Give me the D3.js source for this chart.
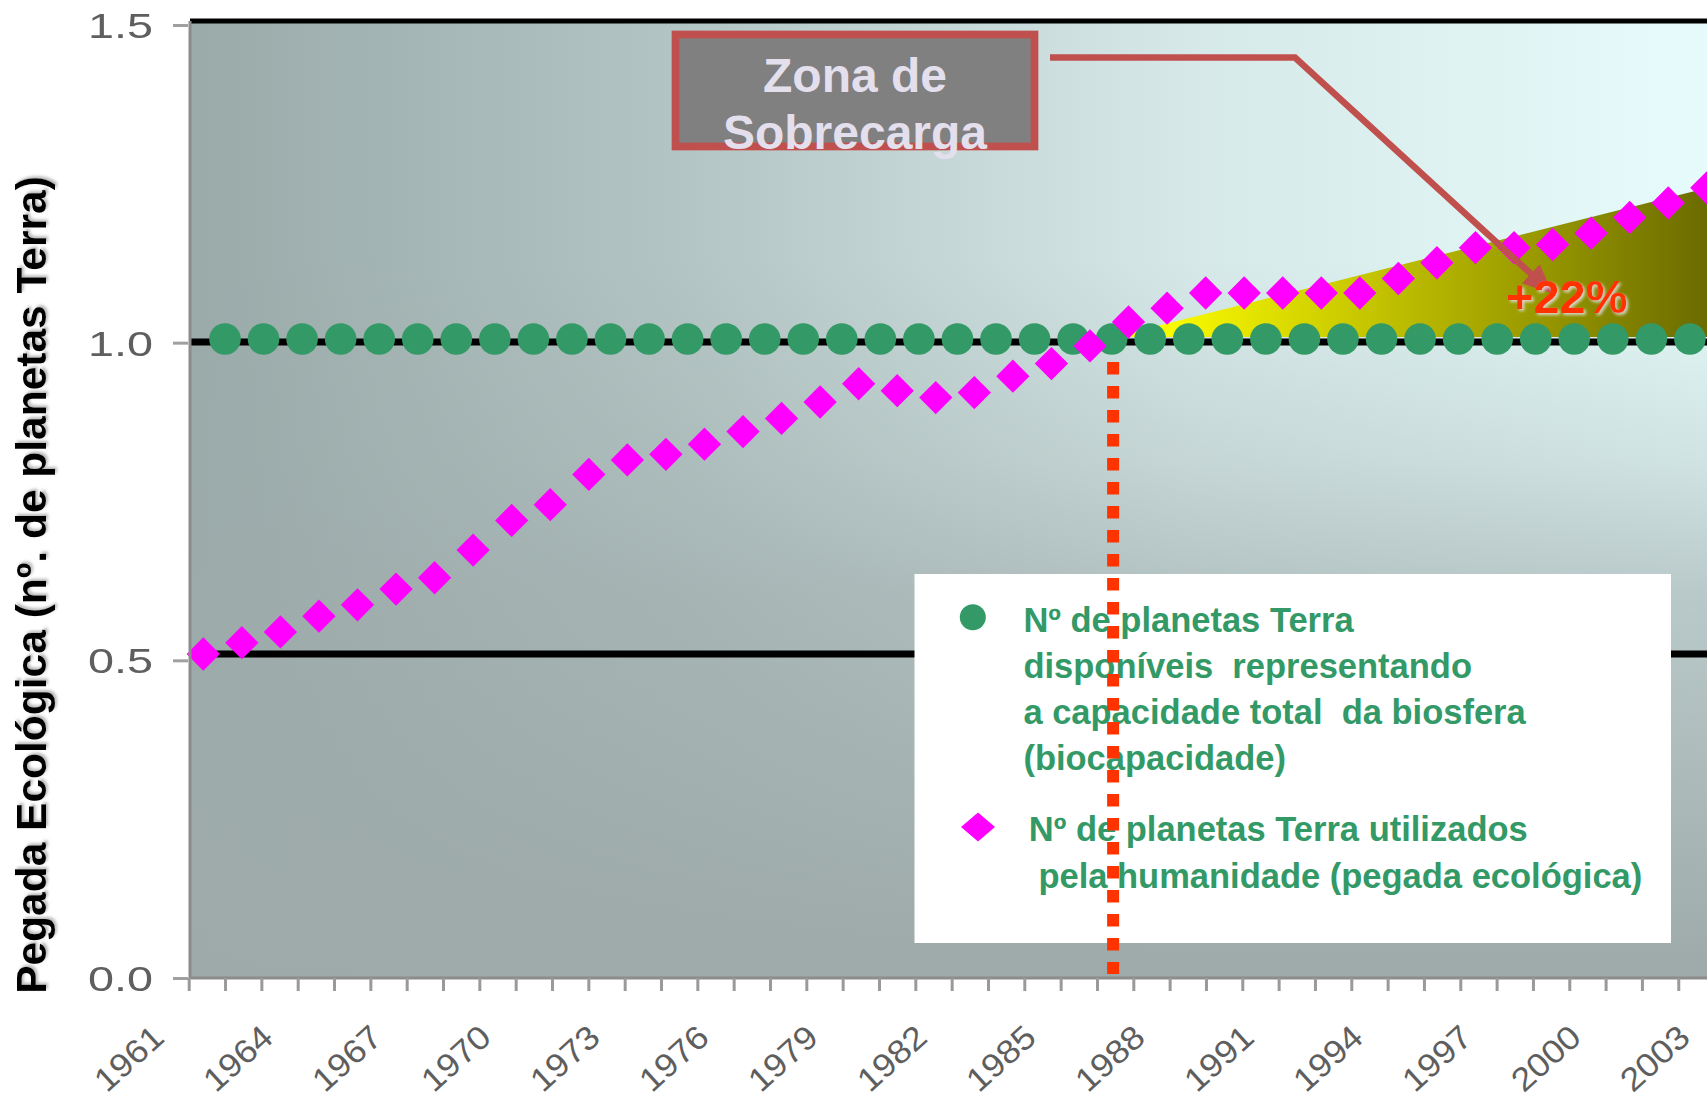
<!DOCTYPE html>
<html>
<head>
<meta charset="utf-8">
<script src="https://cdn.jsdelivr.net/npm/d3@7"></script>
<style>
  body { margin: 0; background: #fff; }
  text { font-family: "Liberation Sans", Arial, sans-serif; }
</style>
</head>
<body>
<div id="chart"></div>
<script>
// x axis: one tick per year, a label every third year
const tickYears = [1961, 1964, 1967, 1970, 1973, 1976, 1979, 1982, 1985, 1988, 1991, 1994, 1997, 2000, 2003];
const yTicks = [0.0, 0.5, 1.0, 1.5];
const gridValues = [0.5, 1.0];

// planets used by humanity (ecological footprint), one diamond per year from 1961
const footprint = [0.500, 0.518, 0.535, 0.560, 0.578, 0.603, 0.621, 0.665, 0.712, 0.737,
                   0.785, 0.808, 0.817, 0.833, 0.853, 0.874, 0.900, 0.929, 0.918, 0.907,
                   0.915, 0.941, 0.961, 0.989, 1.027, 1.049, 1.073, 1.073, 1.073, 1.073,
                   1.073, 1.096, 1.121, 1.145, 1.145, 1.150, 1.168, 1.193, 1.216, 1.240];

// planets available (biocapacity)
const biocapacity = [1.0, 1.0, 1.0, 1.0, 1.0, 1.0, 1.0, 1.0, 1.0, 1.0,
                     1.0, 1.0, 1.0, 1.0, 1.0, 1.0, 1.0, 1.0, 1.0, 1.0,
                     1.0, 1.0, 1.0, 1.0, 1.0, 1.0, 1.0, 1.0, 1.0, 1.0,
                     1.0, 1.0, 1.0, 1.0, 1.0, 1.0, 1.0, 1.0, 1.0];

// overshoot wedge (point index, value) and the crossing point
const overshootTrend = [[23.4, 1.0], [40.0, 1.255]];
const overshootIndex = 23.6;
const overshootLabel = "+22%";

const legendBio = ["Nº de planetas Terra", "disponíveis  representando", "a capacidade total  da biosfera", "(biocapacidade)"];
const legendFoot = ["Nº de planetas Terra utilizados", " pela humanidade (pegada ecológica)"];
const yTitle = "Pegada Ecológica (nº. de planetas Terra)";
const zoneTitle = ["Zona de", "Sobrecarga"];

const width = 1707;
const height = 1105;
const plotLeft = 190, plotTop = 21, plotBottom = 978;

const svg = d3.select("#chart").append("svg")
    .attr("width", width)
    .attr("height", height);

const defs = svg.append("defs");

const bgH = defs.append("linearGradient").attr("id", "bgH")
    .attr("gradientUnits", "userSpaceOnUse")
    .attr("x1", plotLeft).attr("x2", width).attr("y1", 0).attr("y2", 0);
[[0, "#99aaa9"], [0.33, "#b3c5c4"], [0.66, "#d6e9e8"], [1, "#e6fbfb"]].forEach(s =>
    bgH.append("stop").attr("offset", s[0]).attr("stop-color", s[1]));

const bgV = defs.append("linearGradient").attr("id", "bgV")
    .attr("gradientUnits", "userSpaceOnUse")
    .attr("x1", 0).attr("x2", 0).attr("y1", plotTop).attr("y2", plotBottom);
[[0, 0], [0.25, 0], [0.46, 0.3], [0.6, 0.62], [1, 1]].forEach(s =>
    bgV.append("stop").attr("offset", s[0]).attr("stop-color", "#9eaaaa").attr("stop-opacity", s[1]));

const wedgeGrad = defs.append("linearGradient").attr("id", "wedge")
    .attr("gradientUnits", "userSpaceOnUse")
    .attr("x1", 1150).attr("x2", width).attr("y1", 0).attr("y2", 0);
wedgeGrad.append("stop").attr("offset", 0).attr("stop-color", "#ffff00");
wedgeGrad.append("stop").attr("offset", 1).attr("stop-color", "#6b6b00");

defs.append("filter").attr("id", "soft")
    .append("feGaussianBlur").attr("stdDeviation", 0.6);
defs.append("filter").attr("id", "shadow")
    .append("feDropShadow").attr("dx", 2).attr("dy", 2).attr("stdDeviation", 1.5)
    .attr("flood-color", "#888").attr("flood-opacity", 0.6);
defs.append("filter").attr("id", "glow")
    .append("feDropShadow").attr("dx", 2).attr("dy", 2).attr("stdDeviation", 1.5)
    .attr("flood-color", "#ddd").attr("flood-opacity", 0.9);

// scales: axis and the pasted marker series do not share spacing
const xA = d3.scaleLinear().domain([1961, 2003]).range([188.7, 1714.6]);
const yA = d3.scaleLinear().domain([0, 1.5]).range([plotBottom, 25]);
const xFoot = d3.scaleLinear().domain([0, 39]).range([203.3, 1706.8]);
const xBio = d3.scaleLinear().domain([0, 38]).range([225, 1689.9]);
const yM = d3.scaleLinear().domain([0.5, 1.0]).range([654, 339]);

// background
svg.append("rect")
    .attr("x", plotLeft).attr("y", plotTop)
    .attr("width", width - plotLeft).attr("height", plotBottom - plotTop)
    .attr("fill", "url(#bgH)");
svg.append("rect")
    .attr("x", plotLeft).attr("y", plotTop)
    .attr("width", width - plotLeft).attr("height", plotBottom - plotTop)
    .attr("fill", "url(#bgV)");

// gridlines
svg.append("line")
    .attr("x1", plotLeft).attr("x2", width)
    .attr("y1", plotTop).attr("y2", plotTop)
    .attr("stroke", "black").attr("stroke-width", 5);
svg.selectAll(".grid").data(gridValues).enter().append("line")
    .attr("class", "grid")
    .attr("x1", plotLeft).attr("x2", width)
    .attr("y1", d => yM(d) + (d === 1 ? 3 : 0))
    .attr("y2", d => yM(d) + (d === 1 ? 3 : 0))
    .attr("stroke", "black").attr("stroke-width", 7);

// overshoot wedge
svg.append("path")
    .attr("d", d3.area()
        .x(d => xFoot(d[0]))
        .y0(yM(1.0) - 2)
        .y1(d => yM(d[1]))(overshootTrend))
    .attr("fill", "url(#wedge)");

// biocapacity dots
svg.selectAll(".bio").data(biocapacity).enter().append("circle")
    .attr("class", "bio")
    .attr("cx", (d, i) => xBio(i))
    .attr("cy", d => yM(d))
    .attr("r", 15.8)
    .attr("fill", "#339966");

// footprint diamonds
const diamond = d3.symbol(d3.symbolSquare, 555);
svg.selectAll(".foot").data(footprint).enter().append("path")
    .attr("class", "foot")
    .attr("d", diamond)
    .attr("transform", (d, i) => `translate(${xFoot(i)},${yM(d)}) rotate(45)`)
    .attr("fill", "#ff00ff");

// y axis
svg.append("line")
    .attr("x1", plotLeft).attr("x2", plotLeft)
    .attr("y1", plotTop).attr("y2", plotBottom)
    .attr("stroke", "#8c8c8c").attr("stroke-width", 3);
const yAxisG = svg.append("g")
    .attr("transform", `translate(${plotLeft - 2},0)`)
    .call(d3.axisLeft(yA).tickValues(yTicks).tickSize(15).tickPadding(20).tickFormat(d3.format(".1f")));
yAxisG.select(".domain").remove();
yAxisG.selectAll(".tick line").attr("stroke", "#a0a0a0").attr("stroke-width", 3);
yAxisG.selectAll(".tick text")
    .attr("x", -35)
    .attr("dy", "0.36em")
    .attr("font-size", 35)
    .attr("fill", "#5e5e5e")
    .attr("textLength", 65)
    .attr("lengthAdjust", "spacingAndGlyphs")
    .attr("filter", "url(#soft)");

// x axis
svg.append("line")
    .attr("x1", plotLeft).attr("x2", width)
    .attr("y1", plotBottom).attr("y2", plotBottom)
    .attr("stroke", "#8c8c8c").attr("stroke-width", 3);
const xAxisG = svg.append("g")
    .attr("transform", `translate(0,${plotBottom})`)
    .call(d3.axisBottom(xA)
        .tickValues(d3.range(1961, 2004))
        .tickSize(13)
        .tickFormat(d => tickYears.includes(d) ? d : ""));
xAxisG.select(".domain").remove();
xAxisG.selectAll(".tick line").attr("stroke", "#9a9a9a").attr("stroke-width", 3);
xAxisG.selectAll(".tick text")
    .attr("x", 0).attr("y", 0).attr("dy", 0)
    .attr("text-anchor", "end")
    .attr("transform", "translate(-23,62) rotate(-42)")
    .attr("font-size", 33)
    .attr("fill", "#5e5e5e")
    .filter(d => tickYears.includes(d))
    .attr("textLength", 80)
    .attr("lengthAdjust", "spacingAndGlyphs");

// y title
svg.append("text")
    .attr("transform", `translate(46,585) rotate(-90)`)
    .attr("text-anchor", "middle")
    .attr("font-size", 42.5)
    .attr("font-weight", "bold")
    .attr("fill", "black")
    .attr("filter", "url(#shadow)")
    .text(yTitle);

// legend
const legend = svg.append("g");
legend.append("rect")
    .attr("x", 914.5).attr("y", 574)
    .attr("width", 756.5).attr("height", 369)
    .attr("fill", "white");
legend.append("circle")
    .attr("cx", 972.8).attr("cy", 617.3).attr("r", 13)
    .attr("fill", "#339966");
legend.append("path")
    .attr("d", "M978,812.5 L995,827 L978,841.5 L961,827 Z")
    .attr("fill", "#ff00ff");
legend.selectAll(".lb").data(legendBio).enter().append("text")
    .attr("class", "lb")
    .attr("x", 1023.4)
    .attr("y", (d, i) => 632 + i * 46)
    .text(d => d);
legend.selectAll(".lf").data(legendFoot).enter().append("text")
    .attr("class", "lf")
    .attr("x", 1028.8)
    .attr("y", (d, i) => 841 + i * 47)
    .text(d => d);
legend.selectAll("text")
    .attr("font-size", 34.5)
    .attr("font-weight", "bold")
    .attr("fill", "#339966")
    .style("white-space", "pre");

// crossing marker
svg.append("line")
    .attr("x1", xFoot(overshootIndex)).attr("x2", xFoot(overshootIndex))
    .attr("y1", 362).attr("y2", plotBottom - 4)
    .attr("stroke", "#ff3300").attr("stroke-width", 12)
    .attr("stroke-dasharray", "12.5 11.5");

// zone box
svg.append("rect")
    .attr("x", 675.5).attr("y", 34.5)
    .attr("width", 359).attr("height", 112)
    .attr("fill", "#808080")
    .attr("stroke", "#c0504d").attr("stroke-width", 7.7);
svg.selectAll(".zone").data(zoneTitle).enter().append("text")
    .attr("class", "zone")
    .attr("x", 855)
    .attr("y", (d, i) => 91.5 + i * 57)
    .attr("text-anchor", "middle")
    .attr("font-size", 48)
    .attr("font-weight", "bold")
    .attr("fill", "#e4dfec")
    .text(d => d);

// arrow from the box to the wedge
const p0 = [1050, 57.5], p1 = [1295, 57.5], tip = [1553, 294];
const dx = tip[0] - p1[0], dy = tip[1] - p1[1];
const len = Math.sqrt(dx * dx + dy * dy);
const ux = dx / len, uy = dy / len;
const headLen = 30, headW = 13;
const base = [tip[0] - ux * headLen, tip[1] - uy * headLen];
svg.append("path")
    .attr("d", `M${p0}L${p1}L${tip[0] - ux * 22},${tip[1] - uy * 22}`)
    .attr("fill", "none")
    .attr("stroke", "#c0504d").attr("stroke-width", 6.5);
svg.append("path")
    .attr("d", `M${tip}L${base[0] - uy * headW},${base[1] + ux * headW}L${base[0] + uy * headW},${base[1] - ux * headW}Z`)
    .attr("fill", "#c0504d");

svg.append("text")
    .attr("x", 1506).attr("y", 313)
    .attr("font-size", 47)
    .attr("font-weight", "bold")
    .attr("fill", "#ff3300")
    .attr("filter", "url(#glow)")
    .text(overshootLabel);
</script>
</body>
</html>
